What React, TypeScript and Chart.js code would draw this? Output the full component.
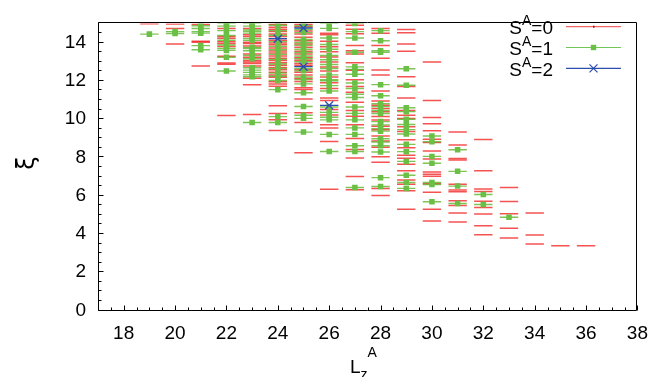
import { useEffect, useRef } from 'react';
import { Chart, registerables } from 'chart.js';

Chart.register(...registerables);

// ---- data ----
const LZ = [19, 20, 21, 22, 23, 24, 25, 26, 27, 28, 29, 30, 31, 32, 33, 34, 35, 36];

const S0_LEVELS: number[][] = [
  [14.98],
  [14.97, 14.73, 13.92],
  [14.95, 14.07, 14.02, 12.78],
  [14.73, 14.32, 14.22, 14.04, 13.95, 13.79, 13.28, 12.93, 12.86, 10.19],
  [14.74, 14.41, 14.32, 14.02, 13.95, 13.82, 13.4, 13.23, 13.06, 12.98, 12.9, 12.78, 12.14, 11.8, 10.24],
  [14.95, 14.8, 14.7, 14.58, 14.45, 14.32, 14.12, 13.98, 13.88, 13.72, 13.56, 13.45, 13.3, 13.18, 13.06, 12.95, 12.82, 12.7, 12.58, 12.45, 12.3, 12.18, 11.95, 11.84, 11.72, 10.7, 10.29, 9.96, 9.4],
  [14.95, 14.82, 14.6, 14.44, 14.28, 14.1, 13.93, 13.75, 13.55, 13.4, 13.22, 13.08, 12.9, 12.82, 12.58, 12.45, 12.3, 12.12, 11.97, 11.64, 11.55, 11.05, 10.33, 9.82, 8.24],
  [14.49, 14.41, 14.07, 13.78, 13.52, 13.25, 12.98, 12.72, 12.51, 12.2, 11.9, 11.6, 11.1, 10.97, 10.5, 10.22, 9.71, 9.54, 8.83, 6.33],
  [14.9, 14.69, 14.46, 13.85, 13.57, 13.4, 12.95, 12.55, 12.06, 11.7, 11.4, 10.88, 10.45, 10.15, 9.71, 8.98, 8.41, 7.97, 7.0, 6.31],
  [14.74, 14.49, 13.85, 13.18, 12.56, 12.31, 11.47, 10.95, 10.72, 10.55, 10.38, 10.13, 9.95, 9.62, 9.45, 9.12, 8.85, 8.53, 8.03, 7.74, 6.38, 6.01],
  [14.68, 14.51, 13.92, 13.55, 12.21, 11.7, 11.1, 10.45, 10.2, 10.03, 9.6, 9.35, 8.92, 8.5, 8.11, 7.96, 7.64, 7.3, 6.82, 6.6, 6.26, 5.29],
  [12.98, 10.97, 10.08, 9.76, 9.39, 8.95, 8.78, 8.33, 7.91, 7.24, 7.12, 7.02, 6.62, 6.18, 5.29, 4.67],
  [9.32, 8.65, 7.94, 7.86, 6.6, 6.3, 6.2, 5.73, 5.48, 5.09, 4.62],
  [8.93, 7.3, 6.35, 6.22, 5.71, 5.38, 5.04, 4.43, 3.96],
  [6.43, 5.69, 5.05, 4.3, 3.79],
  [5.09, 3.94, 3.48],
  [3.38],
  [3.38],
];

const S1_LEVELS: number[][] = [
  [14.44],
  [14.57, 14.47],
  [14.88, 14.73, 14.57, 14.49, 13.84, 13.62],
  [15.0, 14.86, 14.62, 14.37, 14.12, 13.87, 13.69, 13.59, 13.23, 12.51],
  [15.0, 14.86, 14.66, 14.59, 14.49, 14.22, 14.12, 13.75, 13.69, 13.57, 13.32, 13.15, 12.68, 12.56, 12.44, 12.31, 12.21, 9.82],
  [14.9, 14.62, 14.38, 14.05, 13.8, 13.62, 13.38, 13.12, 12.88, 12.64, 12.4, 12.24, 12.02, 11.54, 10.13, 9.82],
  [14.88, 14.68, 14.52, 14.16, 14.0, 13.86, 13.65, 13.48, 13.3, 13.15, 13.0, 12.64, 12.52, 12.2, 12.06, 11.84, 11.38, 10.66, 10.2, 10.04, 9.32],
  [15.0, 14.74, 14.24, 13.9, 13.65, 13.32, 13.1, 12.85, 12.64, 12.31, 12.06, 12.0, 11.75, 11.47, 10.63, 10.35, 10.1, 9.96, 9.2, 8.31],
  [15.0, 14.57, 14.24, 13.49, 12.73, 12.6, 12.34, 11.89, 11.6, 11.3, 11.13, 10.63, 10.3, 9.96, 9.54, 9.2, 8.61, 8.31, 6.43],
  [14.62, 14.09, 13.57, 13.49, 11.8, 11.22, 10.8, 10.65, 10.45, 10.29, 9.87, 9.7, 9.5, 9.37, 8.97, 8.8, 8.61, 8.28, 6.94, 6.48],
  [12.63, 11.77, 10.59, 10.39, 9.99, 9.72, 9.45, 9.22, 8.68, 8.3, 7.79, 7.07, 6.69, 6.38],
  [9.12, 8.82, 8.05, 7.69, 6.69, 6.58, 5.68],
  [8.4, 7.27, 6.5, 5.59],
  [6.06, 5.54],
  [4.87],
  [],
  [],
  [],
];

const S2_LZ = [24, 25, 25, 26];
const S2_XI = [14.2, 14.76, 12.74, 10.72];

const X_TICKS = [18, 20, 22, 24, 26, 28, 30, 32, 34, 36, 38];
const Y_TICKS = [0, 2, 4, 6, 8, 10, 12, 14];
const LEGEND_LABELS = ['0', '1', '2'];

// ---- style ----
const FONT = '"Liberation Sans", Arial, Helvetica, sans-serif';
const RED = 'rgba(240, 0, 0, 0.68)';
const GREEN = 'rgba(90, 180, 40, 0.78)';
const GREEN_SQ = '#6abf45';
const BLUE = '#2c4fae';

const toPoints = (levels: number[][]) =>
  LZ.flatMap((lz, i) => (levels[i] || []).map((v) => ({ x: lz, y: v })));

const decorPlugin = {
  id: 'decor',
  afterDraw(chart: any) {
    const { ctx, chartArea: a } = chart;
    const xs = chart.scales.x;
    const ys = chart.scales.y;
    ctx.save();
    // frame
    ctx.strokeStyle = '#000';
    ctx.lineWidth = 1;
    const L = Math.round(a.left) + 0.5;
    const R = Math.round(a.right) - 0.5;
    const T = Math.round(a.top) - 0.5;
    const B = Math.round(a.bottom) - 0.5;
    ctx.beginPath();
    ctx.rect(L, T, R - L, B - T);
    ctx.stroke();
    // inward ticks (major + minor) on bottom and left
    ctx.beginPath();
    for (let v = xs.min; v <= xs.max + 1e-9; v += 0.5) {
      const px = Math.round(xs.getPixelForValue(v)) + 0.5;
      const major = Math.abs(v % 2) < 1e-9;
      const len = major ? 5 : 3;
      ctx.moveTo(px, B);
      ctx.lineTo(px, B - len);
    }
    for (let v = ys.min; v <= ys.max + 1e-9; v += 0.5) {
      const py = Math.round(ys.getPixelForValue(v)) - 0.5;
      const major = Math.abs(v % 2) < 1e-9;
      const len = major ? 5 : 3;
      ctx.moveTo(L, py);
      ctx.lineTo(L + len, py);
    }
    ctx.stroke();

    // legend
    const rowY = [26.7, 47.5, 68.3];
    for (let i = 0; i < 3; i++) {
      const y = rowY[i];
      ctx.strokeStyle = i === 0 ? 'rgba(236,90,90,0.9)' : i === 1 ? 'rgba(110,195,80,0.95)' : BLUE;
      ctx.lineWidth = 1.2;
      ctx.beginPath();
      ctx.moveTo(566, y);
      ctx.lineTo(621, y);
      ctx.stroke();
      if (i === 1) {
        ctx.fillStyle = GREEN_SQ;
        ctx.fillRect(593.5 - 2.7, y - 2.7, 5.4, 5.4);
      } else if (i === 2) {
        ctx.strokeStyle = BLUE;
        ctx.beginPath();
        ctx.moveTo(593.5 - 4, y - 4);
        ctx.lineTo(593.5 + 4, y + 4);
        ctx.moveTo(593.5 - 4, y + 4);
        ctx.lineTo(593.5 + 4, y - 4);
        ctx.stroke();
      } else {
        ctx.fillStyle = '#b00';
        ctx.fillRect(593, y - 1, 1.5, 2);
      }
      // text  S^A=n, right-aligned at 553
      ctx.fillStyle = '#000';
      ctx.textBaseline = 'alphabetic';
      ctx.textAlign = 'left';
      const big = `19px ${FONT}`;
      const small = `14px ${FONT}`;
      ctx.font = big;
      const wS = ctx.measureText('S').width;
      const tail = '=' + LEGEND_LABELS[i];
      const wT = ctx.measureText(tail).width;
      ctx.font = small;
      const wA = ctx.measureText('A').width;
      const x0 = 553 - (wS + wA + wT);
      const base = y + 7.3;
      ctx.font = big;
      ctx.fillText('S', x0, base);
      ctx.font = small;
      ctx.fillText('A', x0 + wS, base - 9);
      ctx.font = big;
      ctx.fillText(tail, x0 + wS + wA, base);
    }

    // x title  L_z^A
    {
      ctx.fillStyle = '#000';
      ctx.textAlign = 'left';
      ctx.textBaseline = 'alphabetic';
      ctx.font = `19px ${FONT}`;
      const wL = ctx.measureText('L').width;
      ctx.font = `14px ${FONT}`;
      const wz = ctx.measureText('z').width;
      const x0 = 350;
      ctx.font = `19px ${FONT}`;
      ctx.fillText('L', x0, 373);
      ctx.font = `14px ${FONT}`;
      ctx.fillText('z', x0 + wL, 379);
      ctx.fillText('A', x0 + wL + wz, 357);
    }

    // y title: xi, rotated a quarter turn counter-clockwise
    ctx.translate(28, 163);
    ctx.rotate(-Math.PI / 2);
    ctx.font = `24px "DejaVu Sans", ${FONT}`;
    ctx.textAlign = 'center';
    ctx.textBaseline = 'middle';
    ctx.fillStyle = '#000';
    ctx.fillText('ξ', 0, 0);

    ctx.restore();
  },
};

export default function App() {
  const ref = useRef<HTMLCanvasElement | null>(null);

  useEffect(() => {
    const prevMargin = document.body.style.margin;
    document.body.style.margin = '0';
    const canvas = ref.current;
    if (!canvas) return;
    const s1 = toPoints(S1_LEVELS);
    const s2 = S2_LZ.map((lz, i) => ({ x: lz, y: S2_XI[i] }));
    const chart = new Chart(canvas, {
      type: 'scatter',
      data: {
        datasets: [
          {
            label: 'S2 x',
            data: s2,
            pointStyle: 'crossRot',
            pointRadius: 5.7,
            pointBorderColor: BLUE,
            pointBorderWidth: 1.3,
            order: 1,
          },
          {
            label: 'S2 line',
            data: s2,
            pointStyle: 'line',
            pointRadius: 9.2,
            pointBorderColor: BLUE,
            pointBorderWidth: 1.3,
            order: 2,
          },
          {
            label: 'S1 sq',
            data: s1,
            pointStyle: 'rect',
            pointRadius: 3.9,
            pointBackgroundColor: GREEN_SQ,
            pointBorderColor: GREEN_SQ,
            pointBorderWidth: 0,
            order: 3,
          },
          {
            label: 'S1 line',
            data: s1,
            pointStyle: 'line',
            pointRadius: 9.2,
            pointBorderColor: GREEN,
            pointBorderWidth: 1.4,
            order: 4,
          },
          {
            label: 'S0 line',
            data: toPoints(S0_LEVELS),
            pointStyle: 'line',
            pointRadius: 9.2,
            pointBorderColor: RED,
            pointBorderWidth: 1.5,
            order: 5,
          },
        ] as any,
      },
      options: {
        animation: false,
        responsive: false,
        events: [],
        layout: { padding: { left: 0, right: 14.5, top: 13, bottom: 0 } },
        plugins: { legend: { display: false }, tooltip: { enabled: false } },
        scales: {
          x: {
            type: 'linear',
            min: 17,
            max: 38,
            grid: { display: false, drawTicks: false },
            border: { display: false },
            afterBuildTicks: (s: any) => {
              s.ticks = X_TICKS.map((v) => ({ value: v }));
            },
            afterFit: (s: any) => {
              s.height = 66.5;
            },
            ticks: {
              padding: 12,
              color: '#000',
              font: { family: FONT, size: 19 },
              maxRotation: 0,
              autoSkip: false,
            },
          },
          y: {
            type: 'linear',
            min: 0,
            max: 15,
            grid: { display: false, drawTicks: false },
            border: { display: false },
            afterBuildTicks: (s: any) => {
              s.ticks = Y_TICKS.map((v) => ({ value: v }));
            },
            afterFit: (s: any) => {
              s.width = 98;
            },
            ticks: {
              padding: 12,
              color: '#000',
              font: { family: FONT, size: 19 },
              autoSkip: false,
            },
          },
        },
      },
      plugins: [decorPlugin],
    });
    return () => {
      chart.destroy();
      document.body.style.margin = prevMargin;
    };
  }, []);

  return (
    <div style={{ position: 'absolute', left: 0, top: 0, width: 660, height: 377 }}>
      <canvas ref={ref} width={660} height={377} style={{ display: 'block' }} />
    </div>
  );
}
